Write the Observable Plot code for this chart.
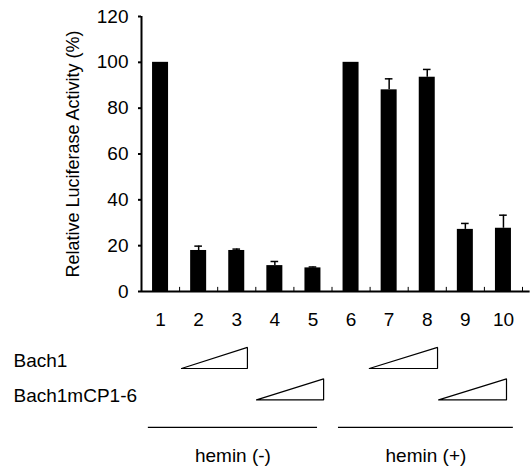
<!DOCTYPE html>
<html>
<head>
<meta charset="utf-8">
<script src="https://cdn.jsdelivr.net/npm/d3@7"></script>
<script src="https://cdn.jsdelivr.net/npm/@observablehq/plot@0.6"></script>
<style>
  html, body { margin: 0; padding: 0; background: #fff; }
  svg { display: block; }
</style>
</head>
<body>
<div id="chart"></div>
<script>
// ---- data ----
const lanes = [1, 2, 3, 4, 5, 6, 7, 8, 9, 10];
const activity = [100, 17.9, 17.9, 11.3, 10.3, 100, 88, 93.5, 27.1, 27.6];
const errorTop = [100, 19.8, 18.5, 13.1, 10.7, 100, 92.8, 96.9, 29.7, 33.3];
const yTicks = [0, 20, 40, 60, 80, 100, 120];
const yLabel = "Relative Luciferase Activity (%)";
const rowLabels = ["Bach1", "Bach1mCP1-6"];
// triangles: construct, lane extent (in lane units)
const triRow = ["Bach1", "Bach1mCP1-6", "Bach1", "Bach1mCP1-6"];
const triStart = [1.55, 3.52, 6.48, 8.3];
const triEnd = [3.28, 5.28, 8.27, 10.08];
// hemin groups
const groupLabels = ["hemin (-)", "hemin (+)"];
const groupStart = [0.68, 5.67];
const groupEnd = [5.12, 10.26];

// ---- layout (y units of the value scale, below zero) ----
const rowBase = {"Bach1": -33.6, "Bach1mCP1-6": -47.3};
const rowText = {"Bach1": -30.1, "Bach1mCP1-6": -45.4};
const triH = 9.2;
const groupLineY = -59.3;
const groupTextY = -71.6;

const bars = lanes.map((l, i) => ({lane: l, value: activity[i], err: errorTop[i]}));
const errs = bars.filter(d => d.err > d.value);

const triPts = [];
triRow.forEach((r, i) => {
  const b = rowBase[r];
  triPts.push({k: i, x: triStart[i], y: b});
  triPts.push({k: i, x: triEnd[i], y: b});
  triPts.push({k: i, x: triEnd[i], y: b + triH});
  triPts.push({k: i, x: triStart[i], y: b});
});
const groups = groupLabels.map((g, i) => ({label: g, x1: groupStart[i], x2: groupEnd[i]}));
const rows = rowLabels.map(r => ({label: r, y: rowText[r]}));

const font = "'Liberation Sans', Arial, Helvetica, sans-serif";
const hw = 0.21, cw = 0.1;

const chart = Plot.plot({
  width: 530,
  height: 466,
  marginLeft: 141,
  marginRight: 8,
  marginTop: 16,
  marginBottom: 175,
  style: {fontFamily: font, background: "#fff", color: "#000", overflow: "visible"},
  x: {type: "linear", domain: [0.5, 10.5]},
  y: {domain: [0, 120]},
  marks: [
    Plot.rectY(bars, {x1: d => d.lane - hw, x2: d => d.lane + hw, y1: 0, y2: "value", fill: "#000"}),
    Plot.ruleX(errs, {x: "lane", y1: "value", y2: "err", stroke: "#000", strokeWidth: 1.5}),
    Plot.ruleY(errs, {y: "err", x1: d => d.lane - cw, x2: d => d.lane + cw, stroke: "#000", strokeWidth: 1.5}),
    // axes lines
    Plot.ruleX([0.5], {y1: 0, y2: 120, stroke: "#000", strokeWidth: 2}),
    Plot.ruleY([0], {x1: 0.5, x2: 10.7, stroke: "#000", strokeWidth: 2}),
    // x boundary ticks
    Plot.ruleX(lanes.map(l => l + 0.5), {x: d => d, y1: 0, y2: 1.8, stroke: "#000", strokeWidth: 1}),
    Plot.axisY({ticks: yTicks, tickSize: 3, tickPadding: 10, fontSize: 19, label: null, strokeWidth: 2}),
    Plot.axisX({ticks: lanes, tickSize: 0, tickPadding: 21, fontSize: 19, label: null, tickFormat: d => String(d)}),
    Plot.text([yLabel], {text: d => d, frameAnchor: "left", textAnchor: "middle", dx: -68, rotate: -90, fontSize: 18, fill: "#000"}),
    // annotations
    Plot.text(rows, {y: "y", text: "label", frameAnchor: "left", dx: 13 - 141, textAnchor: "start", fontSize: 19, fill: "#000"}),
    Plot.line(triPts, {x: "x", y: "y", z: "k", stroke: "#000", strokeWidth: 1.2, strokeLinejoin: "miter"}),
    Plot.ruleY(groups, {y: groupLineY, x1: "x1", x2: "x2", stroke: "#000", strokeWidth: 1.2}),
    Plot.text(groups, {x: d => (d.x1 + d.x2) / 2, y: groupTextY, text: "label", fontSize: 19, fill: "#000"})
  ]
});
document.getElementById("chart").appendChild(chart);
</script>
</body>
</html>
